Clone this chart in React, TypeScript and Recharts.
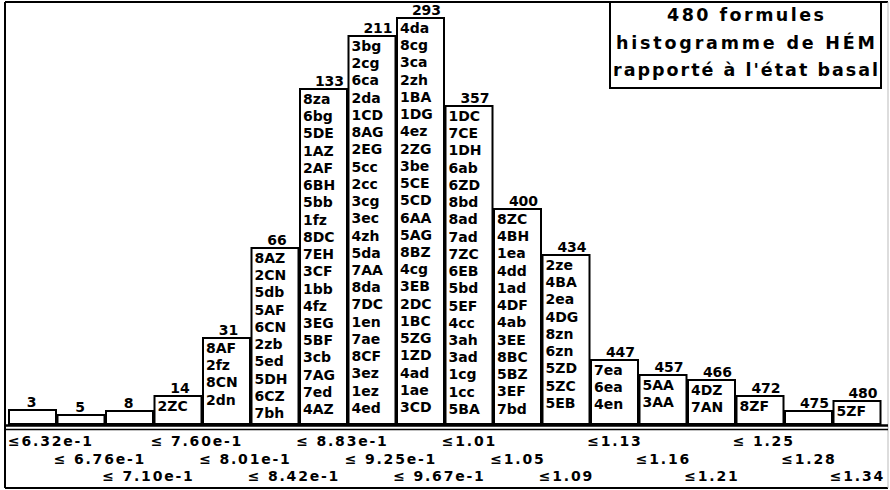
import React from "react";
import { BarChart, Bar, XAxis, YAxis, Customized } from "recharts";

const bins = [
  "≤6.32e-1", "≤ 6.76e-1", "≤ 7.10e-1", "≤ 7.60e-1", "≤ 8.01e-1", "≤ 8.42e-1",
  "≤ 8.83e-1", "≤ 9.25e-1", "≤ 9.67e-1", "≤1.01", "≤1.05", "≤1.09",
  "≤1.13", "≤1.16", "≤1.21", "≤ 1.25", "≤1.28", "≤1.34",
];
const barHeights = [14, 9, 13, 28, 86, 176, 335, 388, 406, 318, 215, 169, 64, 49, 44, 28, 13, 23];
const cumulative = [3, 5, 8, 14, 31, 66, 133, 211, 293, 357, 400, 434, 447, 457, 466, 472, 475, 480];
const codes = [
  "",
  "",
  "",
  "2ZC",
  "8AF 2fz 8CN 2dn",
  "8AZ 2CN 5db 5AF 6CN 2zb 5ed 5DH 6CZ 7bh",
  "8za 6bg 5DE 1AZ 2AF 6BH 5bb 1fz 8DC 7EH 3CF 1bb 4fz 3EG 5BF 3cb 7AG 7ed 4AZ",
  "3bg 2cg 6ca 2da 1CD 8AG 2EG 5cc 2cc 3cg 3ec 4zh 5da 7AA 8da 7DC 1en 7ae 8CF 3ez 1ez 4ed",
  "4da 8cg 3ca 2zh 1BA 1DG 4ez 2ZG 3be 5CE 5CD 6AA 5AG 8BZ 4cg 3EB 2DC 1BC 5ZG 1ZD 4ad 1ae 3CD",
  "1DC 7CE 1DH 6ab 6ZD 8bd 8ad 7ad 7ZC 6EB 5bd 5EF 4cc 3ah 3ad 1cg 1cc 5BA",
  "8ZC 4BH 1ea 4dd 1ad 4DF 4ab 3EE 8BC 5BZ 3EF 7bd",
  "2ze 4BA 2ea 4DG 8zn 6zn 5ZD 5ZC 5EB",
  "7ea 6ea 4en",
  "5AA 3AA",
  "4DZ 7AN",
  "8ZF",
  "",
  "5ZF",
];
const titleLines = ["480 formules", "histogramme de HÉM", "rapporté à l'état basal"];
const titleWidths = [157, 259, 265];

const data = bins.map((b, i) => ({ bin: b, h: barHeights[i], cum: cumulative[i], codes: codes[i] }));

const FONT = "'DejaVu Sans', Verdana, sans-serif";

const BarShape = (props: any) => {
  const { x, y, width, height, payload } = props;
  const list: string[] = payload.codes ? payload.codes.split(" ") : [];
  const digits = String(payload.cum).length;
  const shift = digits === 1 ? -1 : digits === 2 ? 2 : 6;
  return (
    <g>
      <rect x={x} y={y} width={width} height={height} fill="#fff" stroke="#000" strokeWidth={2} />
      <text
        x={x + width / 2 + shift}
        y={y - 3}
        textAnchor="middle"
        fontFamily={FONT}
        fontWeight="bold"
        fontSize={14}
        fill="#000"
      >
        {payload.cum}
      </text>
      {list.map((c, k) => (
        <text
          key={k}
          x={x + 3}
          y={y + 15 + k * 17.23}
          fontFamily={FONT}
          fontWeight="bold"
          fontSize={14}
          fill="#000"
        >
          {c}
        </text>
      ))}
    </g>
  );
};

const Tick = (props: any) => {
  const { x, payload, index } = props;
  const row = index % 3;
  const startX = Math.max(8, x - 27);
  return (
    <text
      x={startX}
      y={446 + row * 17.5}
      fontFamily={FONT}
      fontWeight="bold"
      fontSize={14}
      letterSpacing={1.8}
      fill="#000"
    >
      {payload.value}
    </text>
  );
};

const Frame = () => (
  <g>
    <line x1={5} y1={2} x2={888} y2={2} stroke="#000" strokeWidth={2} />
    <line x1={5} y1={2} x2={5} y2={488} stroke="#000" strokeWidth={2} />
    <line x1={5} y1={488} x2={888} y2={488} stroke="#000" strokeWidth={2} />
    <line x1={888} y1={2} x2={888} y2={488} stroke="#bbb" strokeWidth={1} />
    <line x1={5} y1={425.5} x2={888} y2={425.5} stroke="#000" strokeWidth={2.5} />
    <line x1={5} y1={429.5} x2={888} y2={429.5} stroke="#000" strokeWidth={1.5} />
    <rect x={610} y={2} width={271} height={86} fill="#fff" stroke="#000" strokeWidth={2} />
    {titleLines.map((t, i) => (
      <text
        key={i}
        x={745.5 - titleWidths[i] / 2}
        y={21 + i * 27.5}
        textLength={titleWidths[i]}
        lengthAdjust="spacing"
        fontFamily={FONT}
        fontWeight="bold"
        fontSize={17.5}
        fill="#000"
      >
        {t}
      </text>
    ))}
  </g>
);

export default function App() {
  return (
    <div style={{ position: "absolute", left: 0, top: 0, width: 890, height: 490, background: "#fff" }}>
      <BarChart
        width={890}
        height={490}
        data={data}
        margin={{ top: 2, right: 9, left: 8, bottom: 0 }}
        barCategoryGap={1}
      >
        <YAxis hide domain={[0, 422]} type="number" />
        <XAxis
          dataKey="bin"
          height={66}
          axisLine={false}
          tickLine={false}
          interval={0}
          tick={<Tick />}
        />
        <Customized component={Frame} />
        <Bar dataKey="h" shape={<BarShape />} isAnimationActive={false} />
      </BarChart>
    </div>
  );
}
